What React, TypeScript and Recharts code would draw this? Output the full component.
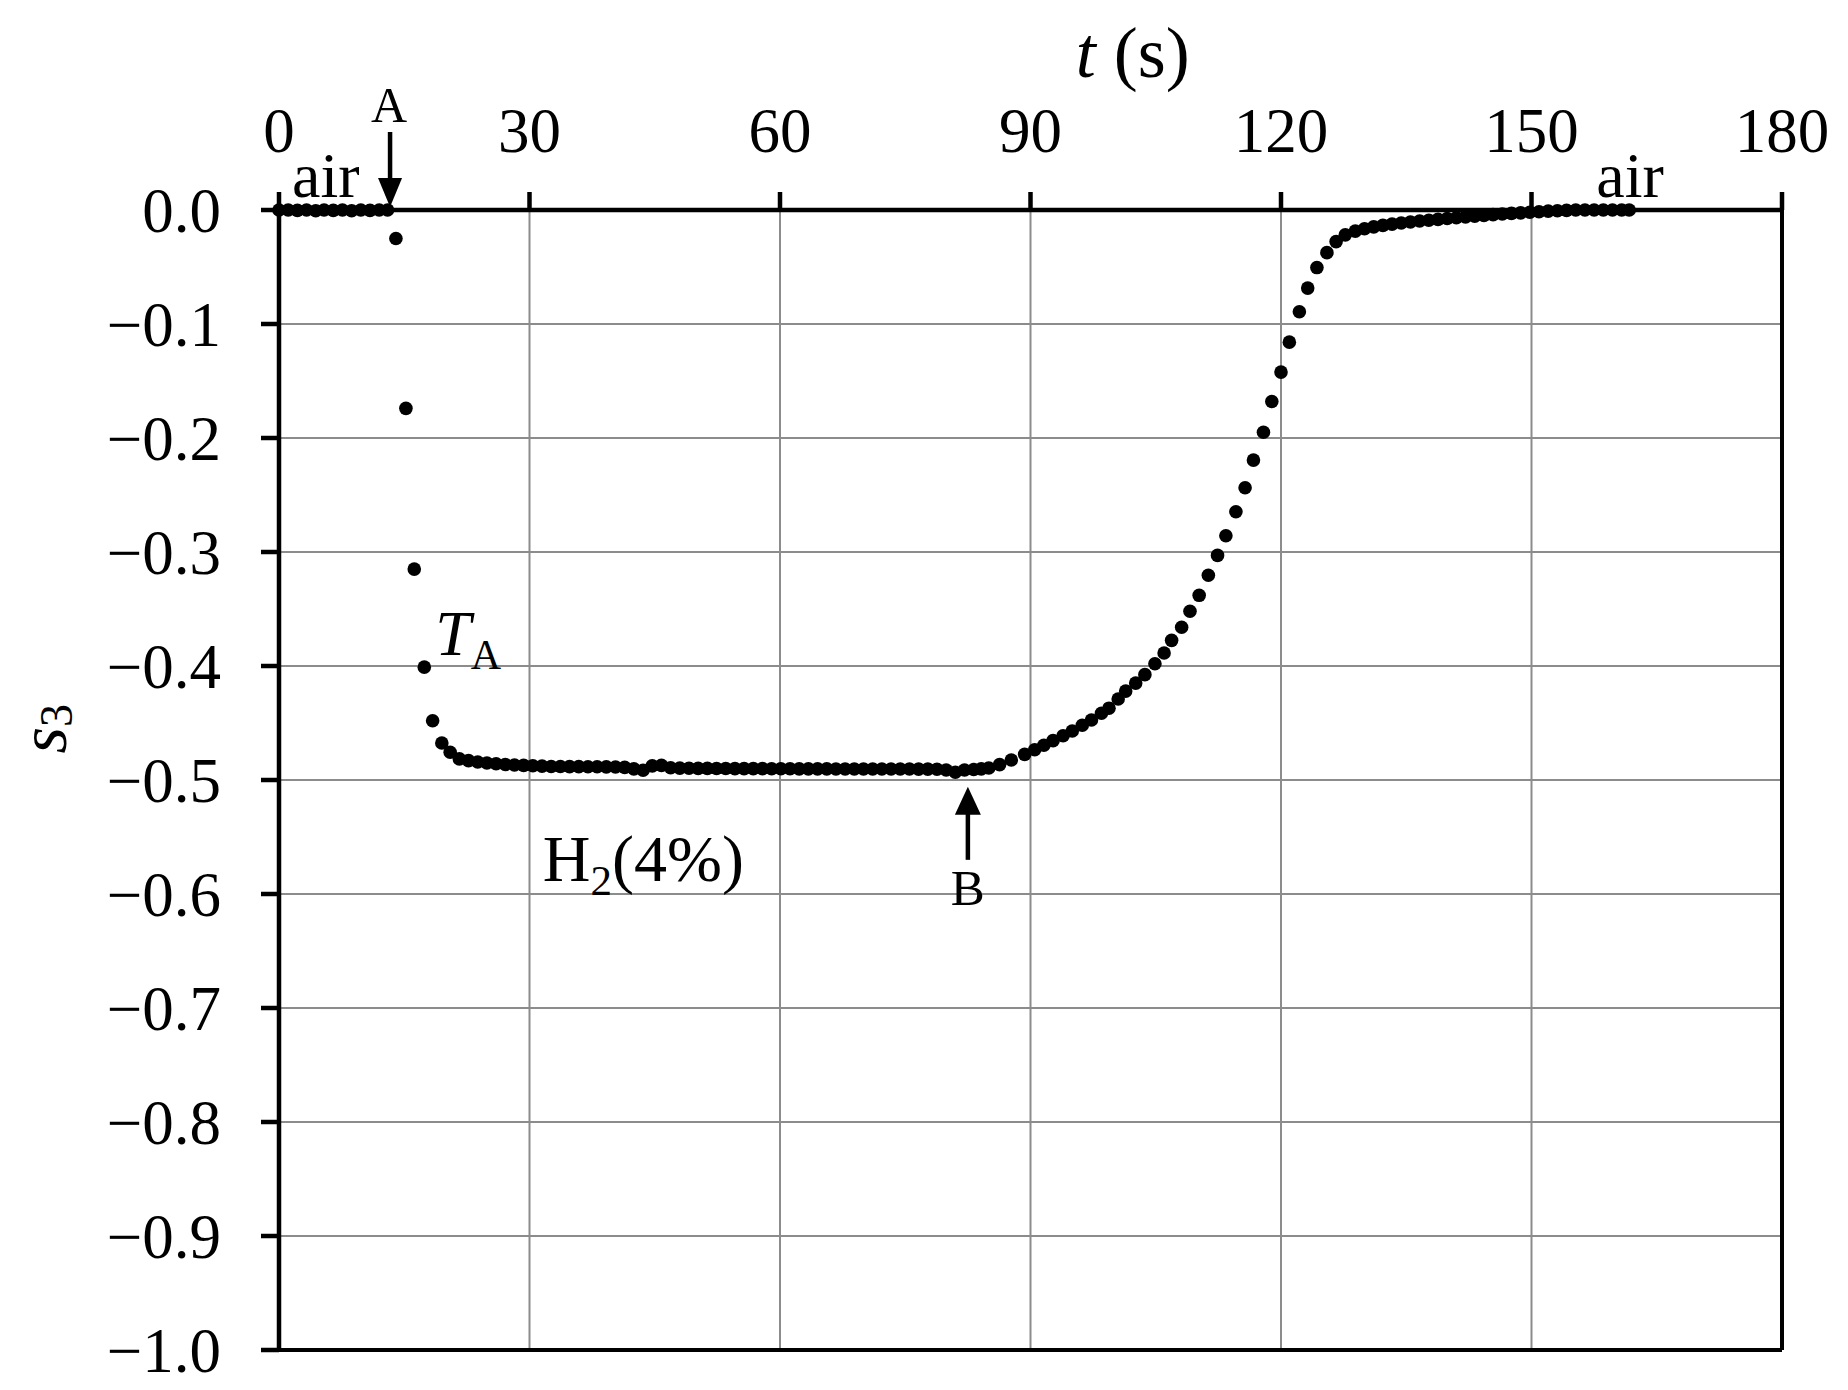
import {
  ScatterChart,
  Scatter,
  XAxis,
  YAxis,
  CartesianGrid,
  ReferenceLine,
  ReferenceDot,
  Label,
} from "recharts";

const FONT = '"Liberation Serif", "Times New Roman", serif';

// sample times t (s)
const time = [
  0, 1.1, 2.2, 3.3, 4.4, 5.4, 6.5, 7.6, 8.7, 9.8, 10.9, 12.0, 13.0,
  14.0, 15.2, 16.2, 17.4, 18.4, 19.5, 20.5,
  21.6, 22.7, 23.8, 24.9, 26.0, 27.1, 28.2, 29.3, 30.4, 31.5, 32.6, 33.7,
  34.8, 35.9, 37.0, 38.1, 39.2, 40.3, 41.4, 42.5, 43.6, 44.7, 45.8, 46.9,
  48.0, 49.1, 50.2, 51.3, 52.4, 53.5, 54.6, 55.7, 56.8, 57.9, 59.0, 60.1,
  61.2, 62.3, 63.4, 64.5, 65.6, 66.7, 67.8, 68.9, 70.0, 71.1, 72.2, 73.3,
  74.4, 75.5, 76.6, 77.7, 78.8, 79.9, 81.0, 82.1, 83.2, 84.1,
  85.0, 86.3, 87.7, 89.3, 90.5, 91.6, 92.7, 93.9, 95.0, 96.2, 97.3, 98.5,
  99.4, 100.5, 101.4, 102.6, 103.7, 104.9, 106.0, 106.9, 108.1, 109.1,
  110.2, 111.3, 112.4, 113.4, 114.6, 115.7, 116.7, 117.9, 118.9, 120.0,
  121.0, 122.2, 123.2, 124.3, 125.5, 126.6, 127.7, 128.9,
  130.0, 131.1, 132.2, 133.3, 134.4, 135.5, 136.6, 137.7, 138.8, 139.9,
  141.0, 142.1, 143.2, 144.3, 145.4, 146.5, 147.6, 148.7, 149.8, 150.9,
  152.0, 153.1, 154.2, 155.3, 156.4, 157.5, 158.6, 159.7, 160.8, 161.7,
];

// response s3 at each sample
const s3 = [
  0, 0, -0.0003, 0, -0.0006, 0, -0.0003, 0, -0.0006, 0, -0.0003, 0, 0,
  -0.025, -0.174, -0.315, -0.401, -0.448, -0.4675, -0.4757,
  -0.4815, -0.483, -0.4842, -0.4851, -0.4858, -0.4864, -0.4869, -0.4872,
  -0.4875, -0.4878, -0.4881, -0.4882, -0.4883, -0.4883, -0.4884, -0.4884,
  -0.4885, -0.4886, -0.4889, -0.4902, -0.4915, -0.4876, -0.4872, -0.4893,
  -0.4896, -0.4897, -0.4898, -0.4898, -0.4899, -0.4899, -0.49, -0.49,
  -0.49, -0.49, -0.4901, -0.4901, -0.4901, -0.4902, -0.4902, -0.4902,
  -0.4902, -0.4903, -0.4903, -0.4903, -0.4903, -0.4903, -0.4904, -0.4904,
  -0.4904, -0.4904, -0.4905, -0.4905, -0.4906, -0.4912, -0.4932, -0.4912,
  -0.4908, -0.4902,
  -0.4895, -0.4865, -0.4825, -0.4775, -0.4735, -0.4695, -0.4655, -0.4612,
  -0.457, -0.452, -0.4474, -0.4415, -0.437, -0.429, -0.422, -0.415,
  -0.4076, -0.398, -0.3886, -0.3775, -0.366, -0.352, -0.338, -0.3204,
  -0.303, -0.2858, -0.2647, -0.2436, -0.2194, -0.195, -0.168, -0.1422,
  -0.1159, -0.0893, -0.0685, -0.0505, -0.0374, -0.0277, -0.0218, -0.0185,
  -0.0165, -0.0148, -0.0135, -0.0124, -0.0114, -0.0105, -0.0097, -0.009,
  -0.0082, -0.0075, -0.0068, -0.0061, -0.0054, -0.0047, -0.0041, -0.0035,
  -0.003, -0.0025, -0.002, -0.0015, -0.001, -0.0006, -0.0003, 0,
  0, 0, 0, 0, 0, 0,
];

const xTicks = [0, 30, 60, 90, 120, 150, 180];
const yTicks = [0, -0.1, -0.2, -0.3, -0.4, -0.5, -0.6, -0.7, -0.8, -0.9, -1.0];

const points = time.map((t, i) => ({ t, s: s3[i] }));

const fmtY = (v: number) => (v < 0 ? "\u2212" : "") + Math.abs(v).toFixed(1);

function Dot(props: any) {
  return <circle cx={props.cx} cy={props.cy} r={6.8} fill="#000" />;
}

function XTitle(props: any) {
  const vb = props.viewBox;
  return (
    <text
      x={vb.x + vb.width * 0.568}
      y={vb.y + 77}
      textAnchor="middle"
      fontSize={72}
      fontFamily={FONT}
      fill="#000"
    >
      <tspan fontStyle="italic">t</tspan> (s)
    </text>
  );
}

function YTitle(props: any) {
  const vb = props.viewBox;
  const x = vb.x + 66;
  const y = vb.y + vb.height * 0.455;
  return (
    <text
      x={x}
      y={y}
      transform={`rotate(-90 ${x} ${y})`}
      textAnchor="middle"
      fontSize={68}
      fontFamily={FONT}
      fill="#000"
    >
      <tspan fontStyle="italic">s</tspan>
      <tspan fontSize={46} dy={6}>3</tspan>
    </text>
  );
}

// arrow pointing down onto the axis, with label above (point A)
function ArrowA(props: any) {
  const { cx, cy } = props;
  return (
    <g>
      <text x={cx - 1} y={cy - 88} textAnchor="middle" fontSize={50} fontFamily={FONT} fill="#000">
        A
      </text>
      <line x1={cx} y1={cy - 78} x2={cx} y2={cy - 26} stroke="#000" strokeWidth={4.5} />
      <polygon points={`${cx - 12},${cy - 32} ${cx + 12},${cy - 32} ${cx},${cy - 3}`} fill="#000" />
    </g>
  );
}

// arrow pointing up at the curve, with label below (point B)
function ArrowB(props: any) {
  const { cx, cy } = props;
  return (
    <g>
      <polygon points={`${cx},${cy} ${cx - 13},${cy + 28} ${cx + 13},${cy + 28}`} fill="#000" />
      <line x1={cx} y1={cy + 24} x2={cx} y2={cy + 73} stroke="#000" strokeWidth={4.5} />
      <text x={cx} y={cy + 118} textAnchor="middle" fontSize={51} fontFamily={FONT} fill="#000">
        B
      </text>
    </g>
  );
}

function AirLabel(props: any) {
  return (
    <text x={props.cx} y={props.cy - 13} textAnchor="middle" fontSize={64} fontFamily={FONT} fill="#000">
      air
    </text>
  );
}

function TaLabel(props: any) {
  return (
    <text x={props.cx} y={props.cy} fontSize={64} fontFamily={FONT} fill="#000">
      <tspan fontStyle="italic">T</tspan>
      <tspan fontSize={42} dy={14}>A</tspan>
    </text>
  );
}

function H2Label(props: any) {
  return (
    <text x={props.cx} y={props.cy} fontSize={66} fontFamily={FONT} fill="#000">
      H<tspan fontSize={43} dy={14}>2</tspan>
      <tspan dy={-14}>(4%)</tspan>
    </text>
  );
}

const axisStroke = { stroke: "#000", strokeWidth: 4.5 };

export default function App() {
  return (
    <div style={{ position: "absolute", left: 0, top: 0, width: 1848, height: 1390, background: "#fff", fontFamily: FONT }}>
      <ScatterChart width={1848} height={1390} margin={{ top: 0, right: 66, bottom: 40, left: 0 }}>
        <CartesianGrid stroke="#8c8c8c" strokeWidth={2} />
        <XAxis
          type="number"
          dataKey="t"
          orientation="top"
          height={210}
          domain={[0, 180]}
          ticks={xTicks}
          interval={0}
          axisLine={axisStroke}
          tickLine={axisStroke}
          tickSize={18}
          tickMargin={40}
          tick={{ fontSize: 63, fill: "#000", fontFamily: FONT }}
        >
          <Label content={XTitle} />
        </XAxis>
        <YAxis
          type="number"
          dataKey="s"
          width={279}
          domain={[-1, 0]}
          ticks={yTicks}
          interval={0}
          tickFormatter={fmtY}
          axisLine={axisStroke}
          tickLine={axisStroke}
          tickSize={18}
          tickMargin={40}
          tick={{ fontSize: 63, fill: "#000", fontFamily: FONT }}
        >
          <Label content={YTitle} />
        </YAxis>
        <ReferenceLine x={180} stroke="#000" strokeWidth={4} />
        <ReferenceLine y={-1} stroke="#000" strokeWidth={4} />
        <Scatter data={points} shape={Dot} isAnimationActive={false} />
        <ReferenceDot x={13.3} y={0} ifOverflow="visible" shape={ArrowA} />
        <ReferenceDot x={5.6} y={0} ifOverflow="visible" shape={AirLabel} />
        <ReferenceDot x={161.8} y={0} ifOverflow="visible" shape={AirLabel} />
        <ReferenceDot x={18.7} y={-0.39} ifOverflow="visible" shape={TaLabel} />
        <ReferenceDot x={31.6} y={-0.589} ifOverflow="visible" shape={H2Label} />
        <ReferenceDot x={82.5} y={-0.506} ifOverflow="visible" shape={ArrowB} />
      </ScatterChart>
    </div>
  );
}
